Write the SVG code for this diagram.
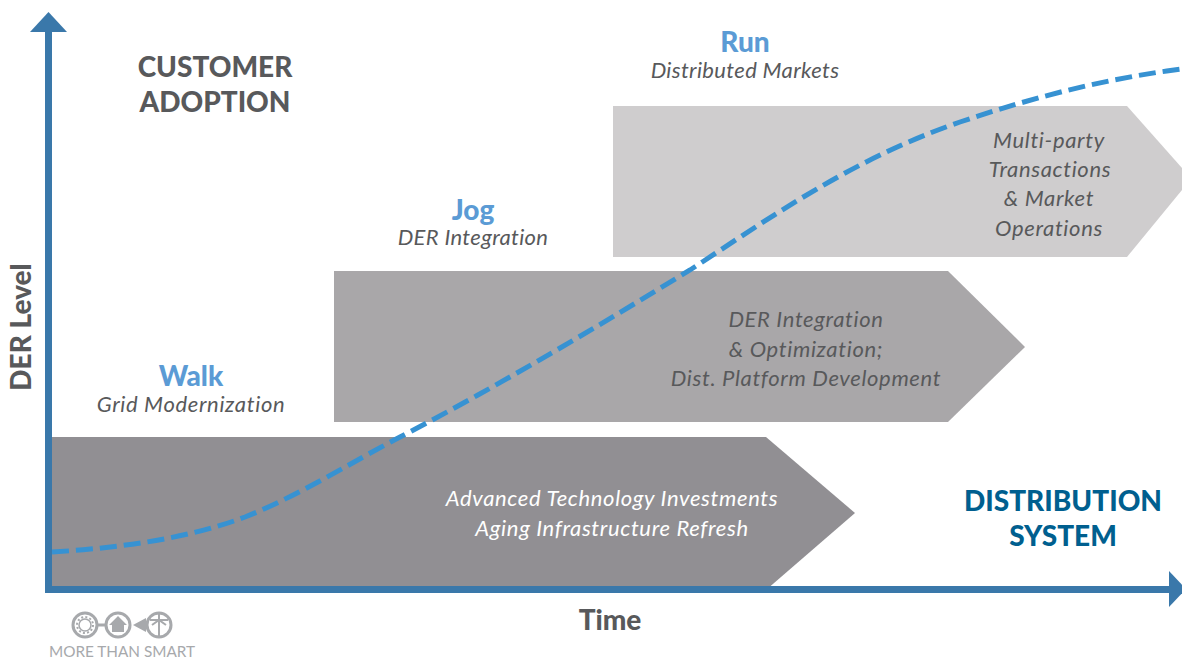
<svg xmlns="http://www.w3.org/2000/svg" width="1182" height="658" viewBox="0 0 1182 658">
<style>
text{font-family:Lato,"Open Sans","Liberation Sans",sans-serif;text-anchor:middle}
.h{font-weight:900;font-size:28px;fill:#58595b}
.s{font-weight:900;font-size:28px;fill:#5b9bd5}
.d{font-weight:900;font-size:28px;fill:#005f8f}
.i{font-style:italic;font-size:22px;letter-spacing:.65px;fill:#58595b}
.n{letter-spacing:.35px}
.w{font-style:italic;font-size:22px;letter-spacing:.65px;fill:#fff}
.ic{fill:none;stroke:#a7a9ac;stroke-width:3}
</style>
<rect width="1182" height="658" fill="#fff"/>
<g id="run-band"><polygon points="613,106 1127,106 1182,168 1182,190 1127,257 613,257" fill="#cfcdce"/><text class="i" x="1049" y="148">Multi-party</text><text class="i" x="1050" y="177">Transactions</text><text class="i" x="1049" y="206">&amp; Market</text><text class="i" x="1049" y="236">Operations</text></g>
<g id="jog-band"><polygon points="334,271 948,271 1025,347 948,422 334,422" fill="#a9a7a9"/><text class="i" x="806" y="327">DER Integration</text><text class="i" x="806" y="357">&amp; Optimization;</text><text class="i" x="806" y="386">Dist. Platform Development</text></g>
<g id="walk-band"><polygon points="48,437 766,437 855,513 766,590 48,590" fill="#918f93"/><text class="w" x="612" y="506">Advanced Technology Investments</text><text class="w" x="612" y="536">Aging Infrastructure Refresh</text></g>
<g id="connectors">
<path d="M52 552C120 548 190 538 245 517C300 495 350 463 400 437C500 385 600 325 690 270C770 218 850 160 960 122C1040 95 1110 78 1182 69" fill="none" stroke="#3792d2" stroke-width="5" stroke-dasharray="17 7"/>
<rect x="45" y="30" width="7" height="563" fill="#3a78aa"/>
<polygon points="48.500,12 67,32 30,32" fill="#3a78aa"/>
<rect x="45" y="586" width="1126" height="7" fill="#3a78aa"/>
<polygon points="1169,571 1186,589 1169,607" fill="#3a78aa"/>
</g>
<g id="customer-adoption"><text class="h" x="215" y="77">CUSTOMER</text><text class="h" x="215" y="112">ADOPTION</text></g>
<g id="distribution-system"><text class="d" x="1063" y="511">DISTRIBUTION</text><text class="d" x="1063" y="546">SYSTEM</text></g>
<g id="run-label"><text class="s" x="745" y="52">Run</text><text class="i n" x="745" y="78">Distributed Markets</text></g>
<g id="jog-label"><text class="s" x="473" y="220">Jog</text><text class="i n" x="473" y="245">DER Integration</text></g>
<g id="walk-label"><text class="s" x="191" y="386">Walk</text><text class="i" x="191" y="412">Grid Modernization</text></g>
<g id="axis-y-label"><text class="h" transform="translate(31,327) rotate(-90)">DER Level</text></g>
<g id="axis-x-label"><text class="h" x="610" y="630">Time</text></g>
<g id="logo">
<circle class="ic" cx="85" cy="625" r="12"/><circle cx="85" cy="625" r="6" fill="none" stroke="#a7a9ac" stroke-width="1.500"/><circle cx="85" cy="625" r="8" fill="none" stroke="#a7a9ac" stroke-width="2" stroke-dasharray="2 2.200"/>
<circle class="ic" cx="118" cy="625" r="12"/><path d="M109 625L118 616L127 625H124V632H112V625Z" fill="#a7a9ac"/>
<circle class="ic" cx="159" cy="625" r="12"/><path d="M159 614V636M150 620H168M152 625L159 620L166 625" fill="none" stroke="#a7a9ac" stroke-width="2"/>
<path class="ic" d="M97 625H106"/><path d="M133 625L146 618V632Z" fill="#a7a9ac"/>
<text x="122" y="657" font-size="15.300" fill="#a7a9ac">MORE THAN SMART</text>
</g>
</svg>
